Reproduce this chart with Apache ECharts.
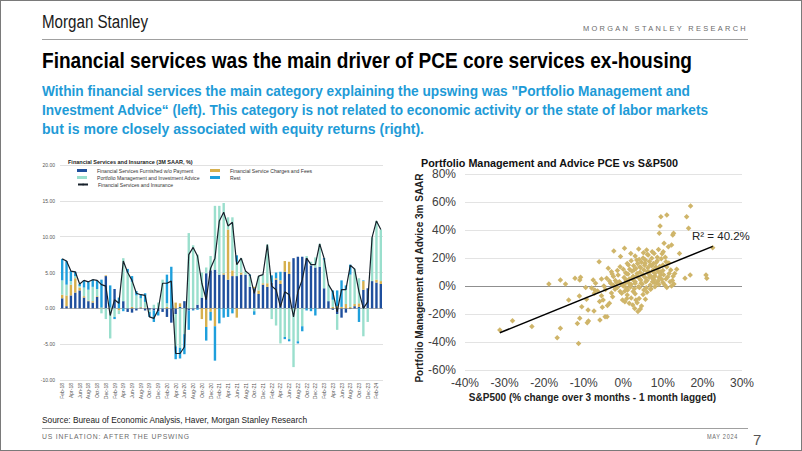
<!DOCTYPE html>
<html><head><meta charset="utf-8">
<script src="https://cdn.jsdelivr.net/npm/echarts/dist/echarts.min.js"></script>
<style>
html,body{margin:0;padding:0;background:#fff;}
#page{position:relative;width:802px;height:451px;overflow:hidden;background:#fff;}
#chart{position:absolute;left:0;top:0;width:802px;height:451px;}
#frame{position:absolute;left:0;top:0;width:802px;height:451px;box-sizing:border-box;border:1px solid #7a7a7a;pointer-events:none;z-index:5;}
.t{position:absolute;white-space:nowrap;line-height:1;transform-origin:0 50%;z-index:4;font-family:"Liberation Sans Narrow","Arial Narrow","Liberation Sans",Arial,sans-serif;}
.hr{position:absolute;height:1px;background:#a0a0a0;z-index:4;}
</style>
</head><body>
<div id="page">
<div id="chart"></div>
<span class="t" data-w="106" style="left:42px;top:13px;font-size:18px;color:#1a1a1a;">Morgan Stanley</span>
<span class="t" data-w="165" style="left:583px;top:25px;font-size:8px;letter-spacing:2.5px;color:#6b6b6b;">MORGAN STANLEY RESEARCH</span>
<div class="hr" style="left:42px;top:39px;width:706px;"></div>
<span class="t" data-w="650" style="left:42px;top:50px;font-size:22px;font-weight:bold;color:#000;">Financial services was the main driver of PCE core services ex-housing</span>
<span class="t" data-w="648" style="left:42px;top:83px;font-size:15px;font-weight:bold;color:#1e9bd7;">Within financial services the main category explaining the upswing was "Portfolio Management and</span>
<span class="t" data-w="666" style="left:42px;top:102px;font-size:15px;font-weight:bold;color:#1e9bd7;">Investment Advice“ (left). This category is not related to economic activity or the state of labor markets</span>
<span class="t" data-w="382" style="left:42px;top:121px;font-size:15px;font-weight:bold;color:#1e9bd7;">but is more closely associated with equity returns (right).</span>
<span class="t" data-w="265" style="left:42px;top:415px;font-size:9.5px;color:#222;">Source: Bureau of Economic Analysis, Haver, Morgan Stanley Research</span>
<div class="hr" style="left:42px;top:428px;width:706px;"></div>
<span class="t" data-w="148" style="left:42px;top:433px;font-size:8px;letter-spacing:1px;color:#6b6b6b;">US INFLATION: AFTER THE UPSWING</span>
<span class="t" data-w="31" style="left:707px;top:433px;font-size:8px;letter-spacing:1px;color:#6b6b6b;">MAY 2024</span>
<span class="t" style="left:753px;top:432px;font-size:15px;color:#555;">7</span>
<div id="frame"></div>
</div>
<script>
// ---------- Left chart data (3M SAAR, %) ----------
const months = ['Feb-18','Mar-18','Apr-18','May-18','Jun-18','Jul-18','Aug-18','Sep-18','Oct-18','Nov-18','Dec-18',
'Jan-19','Feb-19','Mar-19','Apr-19','May-19','Jun-19','Jul-19','Aug-19','Sep-19','Oct-19','Nov-19','Dec-19',
'Jan-20','Feb-20','Mar-20','Apr-20','May-20','Jun-20','Jul-20','Aug-20','Sep-20','Oct-20','Nov-20','Dec-20',
'Jan-21','Feb-21','Mar-21','Apr-21','May-21','Jun-21','Jul-21','Aug-21','Sep-21','Oct-21','Nov-21','Dec-21',
'Jan-22','Feb-22','Mar-22','Apr-22','May-22','Jun-22','Jul-22','Aug-22','Sep-22','Oct-22','Nov-22','Dec-22',
'Jan-23','Feb-23','Mar-23','Apr-23','May-23','Jun-23','Jul-23','Aug-23','Sep-23','Oct-23','Nov-23','Dec-23',
'Jan-24','Feb-24','Mar-24'];

const furnishedWithoutPayment = [1.4,0.3,1.8,2.2,2.5,1.5,1.0,0.8,1.6,0.0,4.5,
0.0,2.7,0.0,1.0,-0.5,-0.6,-0.3,0.1,-0.3,-0.2,-0.3,-0.4,
-0.5,-1.2,-2.0,-0.8,0.2,1.0,-0.3,-0.2,0.5,1.5,4.9,5.3,
5.4,4.7,4.7,4.0,4.5,4.5,4.7,4.7,3.0,2.8,2.0,3.3,
3.0,3.6,4.0,3.4,5.1,4.8,7.0,7.2,7.2,7.0,6.0,5.7,
5.8,2.8,1.0,-0.2,-0.8,-1.3,-0.6,-0.1,0.3,0.2,2.6,2.8,
3.8,3.6,3.4];

const chargesAndFees = [0.5,1.5,1.5,2.0,0.4,0.2,0.1,0.2,0.1,0.1,0.1,
0.1,0.0,-0.3,0.0,0.0,0.2,0.0,0.1,0.1,0.0,0.0,0.0,
0.0,0.2,0.0,0.8,0.5,0.0,0.0,0.0,0.0,-1.5,-2.6,-0.5,
-2.5,0.0,0.2,7.0,0.8,-1.3,0.3,0.0,0.0,0.2,0.5,0.2,
0.5,0.0,0.2,0.5,1.5,1.7,0.0,0.0,0.0,0.0,0.0,0.0,
0.0,0.0,0.0,0.2,0.3,0.2,0.6,0.2,0.3,0.5,1.2,0.0,
0.0,0.4,0.4];

const portfolioManagement = [2.0,1.5,0.5,0.3,0.2,1.2,1.5,2.0,1.0,-0.7,-1.5,
-4.2,-1.2,-0.5,6.0,5.0,3.5,1.8,1.2,0.8,-0.3,0.5,0.8,
4.0,0.5,0.0,-4.5,-5.5,-3.6,10.5,8.8,7.0,3.5,0.8,2.0,
8.9,9.6,9.8,1.7,7.4,2.0,2.0,0.5,1.5,-0.4,2.0,1.2,
5.4,-1.5,-2.4,-4.9,-4.0,-4.3,-8.2,-4.6,-2.5,0.3,0.5,1.4,
3.2,4.0,2.3,1.0,-2.2,0.0,2.0,4.5,4.9,3.5,-3.9,-1.9,
6.1,8.2,7.2];

const restOfFinancial = [3.0,3.3,1.4,0.6,0.3,1.0,1.1,1.0,1.2,3.9,0.0,
3.1,-0.3,1.5,-0.4,0.5,0.8,0.6,0.5,1.2,-0.7,-1.6,-0.6,
0.0,4.0,5.8,-1.8,-1.5,-2.8,-2.7,-0.1,-0.2,0.0,-1.9,-1.2,
-4.8,-2.1,-1.3,-1.2,-0.7,0.9,0.0,0.0,0.2,-0.5,0.0,0.0,
0.0,1.0,0.8,1.2,-0.3,-0.3,0.0,-0.3,-0.7,-0.3,-0.4,-1.0,
0.0,0.2,0.0,1.3,2.2,3.7,0.6,1.4,0.0,-1.9,0.1,0.0,
0.0,0.0,0.0];

const financialServicesTotal = [6.9,6.6,5.2,5.1,3.4,3.9,3.7,4.0,3.9,3.3,3.1,
-1.0,1.2,0.7,6.6,5.0,3.9,2.1,1.9,1.8,-1.2,-1.4,-0.2,
3.5,3.5,3.8,-6.3,-6.3,-5.4,7.5,8.5,7.3,3.5,1.2,5.6,
7.0,12.2,13.4,11.5,12.0,6.1,7.0,5.2,4.7,2.1,4.5,4.7,
8.9,3.1,2.6,0.2,2.3,1.9,-1.2,2.3,4.0,7.0,6.1,6.1,
9.0,7.0,3.3,2.3,-0.5,2.6,2.6,6.0,5.5,2.3,0.0,0.9,
9.9,12.2,11.0];

// ---------- Right chart data (%): [S&P500 3m change lagged, Portfolio Mgmt 3m SAAR] ----------
const scatterPoints = [
[-31.2,-31.4],[-28.0,-24.8],[-23.1,-29.0],[-18.8,1.4],[-16.7,-36.9],[-15.9,-30.2],[-15.9,4.3],[-14.6,1.4],[-13.8,-10.0],[-12.2,5.5],
[-11.6,-26.7],[-11.3,-41.0],[-11.1,-7.1],[-11.0,4.3],[-10.8,6.2],[-10.5,-14.8],[-11.0,-23.1],[-9.5,-1.0],[-9.3,-9.5],[-8.9,-17.1],
[-8.8,-25.0],[-9.1,-26.2],[-7.6,4.3],[-7.4,-17.9],[-7.3,-5.2],[-7.2,-2.9],[-6.1,17.4],[-5.9,-24.3],[-5.5,5.0],[-5.3,-15.2],
[-5.1,-10.0],[-4.9,0],[-4.6,-21.9],[-4.1,-21.9],[-4.2,5.5],[-3.8,12.6],[-3.5,-12.4],[-3.2,1.9],[-3.0,10.2],[-2.7,-7.6],
[-2.5,6.7],[-2.4,25.0],[-2.1,-2.4],[-1.7,2.4],[-1.3,7.9],[-0.8,13.8],[-0.7,21.0],[-0.4,-5.2],[-0.2,-10.0],[0,0],
[0.3,26.9],[0.4,-11.2],[0.7,4.3],[0.8,9.0],[1.1,-2.9],[1.3,15.0],[1.5,-12.4],[1.7,0.7],[1.9,23.3],[2.1,5.5],
[2.4,-13.6],[2.5,-4.0],[2.7,11.4],[3.0,1.9],[3.2,-10.0],[3.4,18.6],[3.5,6.7],[3.7,-18.3],[3.9,26.4],[4.1,-1.0],
[4.2,13.8],[4.4,4.3],[4.6,-14.3],[4.9,7.9],[5.1,23.8],[5.2,-2.9],[5.5,16.2],[5.7,3.1],[5.9,25.7],[6.1,10.2],
[6.3,22.1],[6.6,6.2],[6.8,15.0],[6.9,-2.4],[7.2,19.8],[7.4,3.1],[7.6,11.4],[7.8,23.3],[8.0,7.1],[8.3,16.7],
[8.4,1.9],[8.6,20.5],[8.9,10.2],[9.1,37.6],[9.3,42.9],[9.5,49.5],[9.7,4.8],[10.0,15.0],[10.1,24.5],[10.3,30.5],
[10.5,0.7],[10.8,17.4],[11.0,50.7],[11.4,28.1],[11.8,3.1],[12.0,11.4],[12.2,29.3],[12.5,36.4],[12.7,37.6],[14.2,23.3],
[15.6,5.5],[16.0,49.5],[16.5,41.2],[16.9,7.9],[17.0,57.1],[20.9,7.9],[21.1,5.5],[22.6,27.4],
[0.5,2],[1,3.5],[1.5,5],[2,1],[2.5,7],[3,3],[3.5,9],[4,5.5],[4.5,2],[5,8],
[5.5,6],[6,4],[6.5,10],[7,7],[7.5,5],[8,9],[8.5,12],[9,6],[9.5,8],[10,11],
[1.2,8.5],[2.2,10.5],[3.2,12.5],[4.2,9.8],[5.2,11.5],[6.2,13],[7.2,14.5],[8.2,13.5],[9.2,14],[3.8,-0.5],
[4.8,1.5],[5.8,-1.2],[6.8,0.8],[7.8,2.5],[8.8,3.5],[2.8,-2],[1.8,-0.8],[0.8,-1.5],[-0.5,1],[-1,3],
[-1.5,-1],[-2,4],[0.2,6],[0.6,9.5],[1.6,12],[2.6,14.5],[3.6,16],[4.6,17],[5.6,18.5],[6.6,17.5],
[7.6,16],[8.6,18],[9.6,19.5],[10.6,20.5],[11.2,6.5],[11.6,9],[12.4,4],[12.8,1.5],[11,13.5],[10.2,8],
[4.4,13],[5.4,14.8],[6.4,8.5],[7.4,10.6],[3.4,7.2],[2.4,4.6],[1.4,2.2],[0.4,-3.5],[-0.8,-4],[-3,-5],
[-2.5,0.5],[-3.5,3.5],[-4.5,-2.5],[-5.5,-7],[-6.5,-3.5],[-7,2],[-8,-1.5],[-6,-11],[-4,-14],[1,-6.5],
[2,-8.5],[3,-5.5],[4,-9],[5,-6],[6,-4.5],[7,-2],[8,-0.5],[9,1],[10,2.5],[11,-1],
[12.2,0],[11.5,16.5],[13,9],[13.5,12],[9.8,23],[8.9,26],[7.3,24.5],[6.1,22.5],[5,20],[4,19],
[3,21.5],[2,18],[1,16],[-1.5,11],[-2.8,8.5],[0,12],[0.9,-9],[2.9,-16],[4.3,-16.5],[3.5,-12],
[5.6,-9.5],[7.8,4.5],[9.4,10],[10.8,5],[12.6,7]
];
const rSquaredLabel = 'R² = 40.2%';

// ---------- fit headline text widths ----------
document.querySelectorAll('.t[data-w]').forEach(el => {
  const w = el.getBoundingClientRect().width;
  const target = parseFloat(el.dataset.w);
  el.style.transform = 'scaleX(' + (target / w) + ')';
});

// ---------- trend line via least squares ----------
let sx=0, sy=0, sxx=0, sxy=0;
scatterPoints.forEach(p => { sx+=p[0]; sy+=p[1]; sxx+=p[0]*p[0]; sxy+=p[0]*p[1]; });
const n = scatterPoints.length;
const slope = (n*sxy - sx*sy) / (n*sxx - sx*sx);
const icpt = (sy - slope*sx) / n;
const xs = scatterPoints.map(p => p[0]);
const xMin = Math.min(...xs), xMax = Math.max(...xs);
const trend = [[xMin, icpt + slope*xMin], [xMax, icpt + slope*xMax]];

const C = { fwp:'#1f4f9d', fee:'#d6b04e', pm:'#9adfcd', rest:'#1e9fdc', tot:'#17212b', sc:'#cfb56a' };
const smallFont = '"Liberation Sans Narrow","Liberation Sans",Arial,sans-serif';
const armFont = '"Liberation Sans",Arial,sans-serif';

function legendItem(name, left, top, icon) {
  return {
    data: [name], left: left, top: top, orient: 'horizontal',
    itemWidth: 10, itemHeight: icon === 'line' ? 2 : 3, itemGap: 2,
    icon: icon === 'line' ? undefined : 'rect',
    textStyle: { fontSize: 5.1, color: '#333', fontFamily: smallFont, padding: [0,0,0,5] },
    selectedMode: false
  };
}

const chart = echarts.init(document.getElementById('chart'), null, { renderer: 'svg' });
const leftGridColors = ['#d9d9d9','#d9d9d9','#9a9a9a','#d9d9d9','#d9d9d9','#d9d9d9','#d9d9d9'];
const rightGridColors = ['#e3e3e3','#e3e3e3','#e3e3e3','#8f8f8f','#e3e3e3','#e3e3e3','#e3e3e3','#e3e3e3'];

chart.setOption({
  animation: false,
  title: [
    { text: 'Financial Services and Insurance (3M SAAR, %)', left: 63, top: 154,
      textStyle: { fontSize: 5.5, fontWeight: 'bold', color: '#222', fontFamily: smallFont } },
    { text: 'Portfolio Management and Advice PCE vs S&P500', left: 416, top: 152,
      textStyle: { fontSize: 10.8, fontWeight: 'bold', color: '#111', fontFamily: armFont } }
  ],
  legend: [
    legendItem('Financial Services Furnished w/o Payment', 72, 163),
    legendItem('Financial Service Charges and Fees', 205, 163),
    legendItem('Portfolio Management and Investment Advice', 72, 170),
    legendItem('Rest', 205, 170),
    legendItem('Financial Services and Insurance', 72, 177, 'line')
  ],
  grid: [
    { left: 60, right: 419, top: 165, bottom: 71 },
    { left: 465, right: 60, top: 174, bottom: 81 }
  ],
  xAxis: [
    { type: 'category', gridIndex: 0, data: months, boundaryGap: true,
      axisLine: { show: false }, axisTick: { show: false },
      axisLabel: { interval: 1, rotate: 90, fontSize: 5, color: '#555', margin: 3, fontFamily: smallFont } },
    { type: 'value', gridIndex: 1, min: -40, max: 30, interval: 10,
      axisLine: { show: false }, axisTick: { show: false }, splitLine: { show: false },
      axisLabel: { formatter: '{value}%', fontSize: 12, color: '#404040', margin: 7, fontFamily: armFont },
      name: 'S&P500 (% change over 3 months - 1 month lagged)', nameLocation: 'middle', nameGap: 22,
      nameTextStyle: { fontSize: 10, fontWeight: 'bold', color: '#222', fontFamily: armFont, padding: [0, 22, 0, 0] } }
  ],
  yAxis: [
    { type: 'value', gridIndex: 0, min: -10, max: 20, interval: 5,
      axisLine: { show: false }, axisTick: { show: false },
      splitLine: { lineStyle: { color: leftGridColors, width: 0.8 } },
      axisLabel: { formatter: v => v.toFixed(2), fontSize: 5, color: '#555', margin: 5, fontFamily: smallFont } },
    { type: 'value', gridIndex: 1, min: -60, max: 80, interval: 20,
      axisLine: { show: false }, axisTick: { show: false },
      splitLine: { lineStyle: { color: rightGridColors, width: 1 } },
      axisLabel: { formatter: '{value}%', fontSize: 12, color: '#404040', margin: 9, fontFamily: armFont },
      name: 'Portfolio Management and Advice 3m SAAR', nameLocation: 'middle', nameGap: 37,
      nameTextStyle: { fontSize: 10, fontWeight: 'bold', color: '#222', fontFamily: armFont, padding: [0, 12, 0, 0] } }
  ],
  series: [
    { name: 'Financial Services Furnished w/o Payment', type: 'bar', stack: 'fin', xAxisIndex: 0, yAxisIndex: 0,
      data: furnishedWithoutPayment, itemStyle: { color: C.fwp }, barCategoryGap: '45%' },
    { name: 'Financial Service Charges and Fees', type: 'bar', stack: 'fin', xAxisIndex: 0, yAxisIndex: 0,
      data: chargesAndFees, itemStyle: { color: C.fee } },
    { name: 'Portfolio Management and Investment Advice', type: 'bar', stack: 'fin', xAxisIndex: 0, yAxisIndex: 0,
      data: portfolioManagement, itemStyle: { color: C.pm } },
    { name: 'Rest', type: 'bar', stack: 'fin', xAxisIndex: 0, yAxisIndex: 0,
      data: restOfFinancial, itemStyle: { color: C.rest } },
    { name: 'Financial Services and Insurance', type: 'line', xAxisIndex: 0, yAxisIndex: 0,
      data: financialServicesTotal, symbol: 'none', z: 5,
      lineStyle: { color: C.tot, width: 1.2 }, itemStyle: { color: C.tot } },
    { name: 'PM vs S&P', type: 'scatter', xAxisIndex: 1, yAxisIndex: 1, data: scatterPoints,
      symbol: 'diamond', symbolSize: 5.5, itemStyle: { color: C.sc, opacity: 1 } },
    { name: 'Trend', type: 'line', xAxisIndex: 1, yAxisIndex: 1, data: trend, symbol: 'none', z: 6,
      lineStyle: { color: '#000', width: 1.5 } }
  ],
  graphic: [
    { type: 'text', left: 692, top: 230, z: 10,
      style: { text: rSquaredLabel, fontSize: 11.5, fill: '#222', fontFamily: armFont } }
  ]
});
</script>
</body></html>
